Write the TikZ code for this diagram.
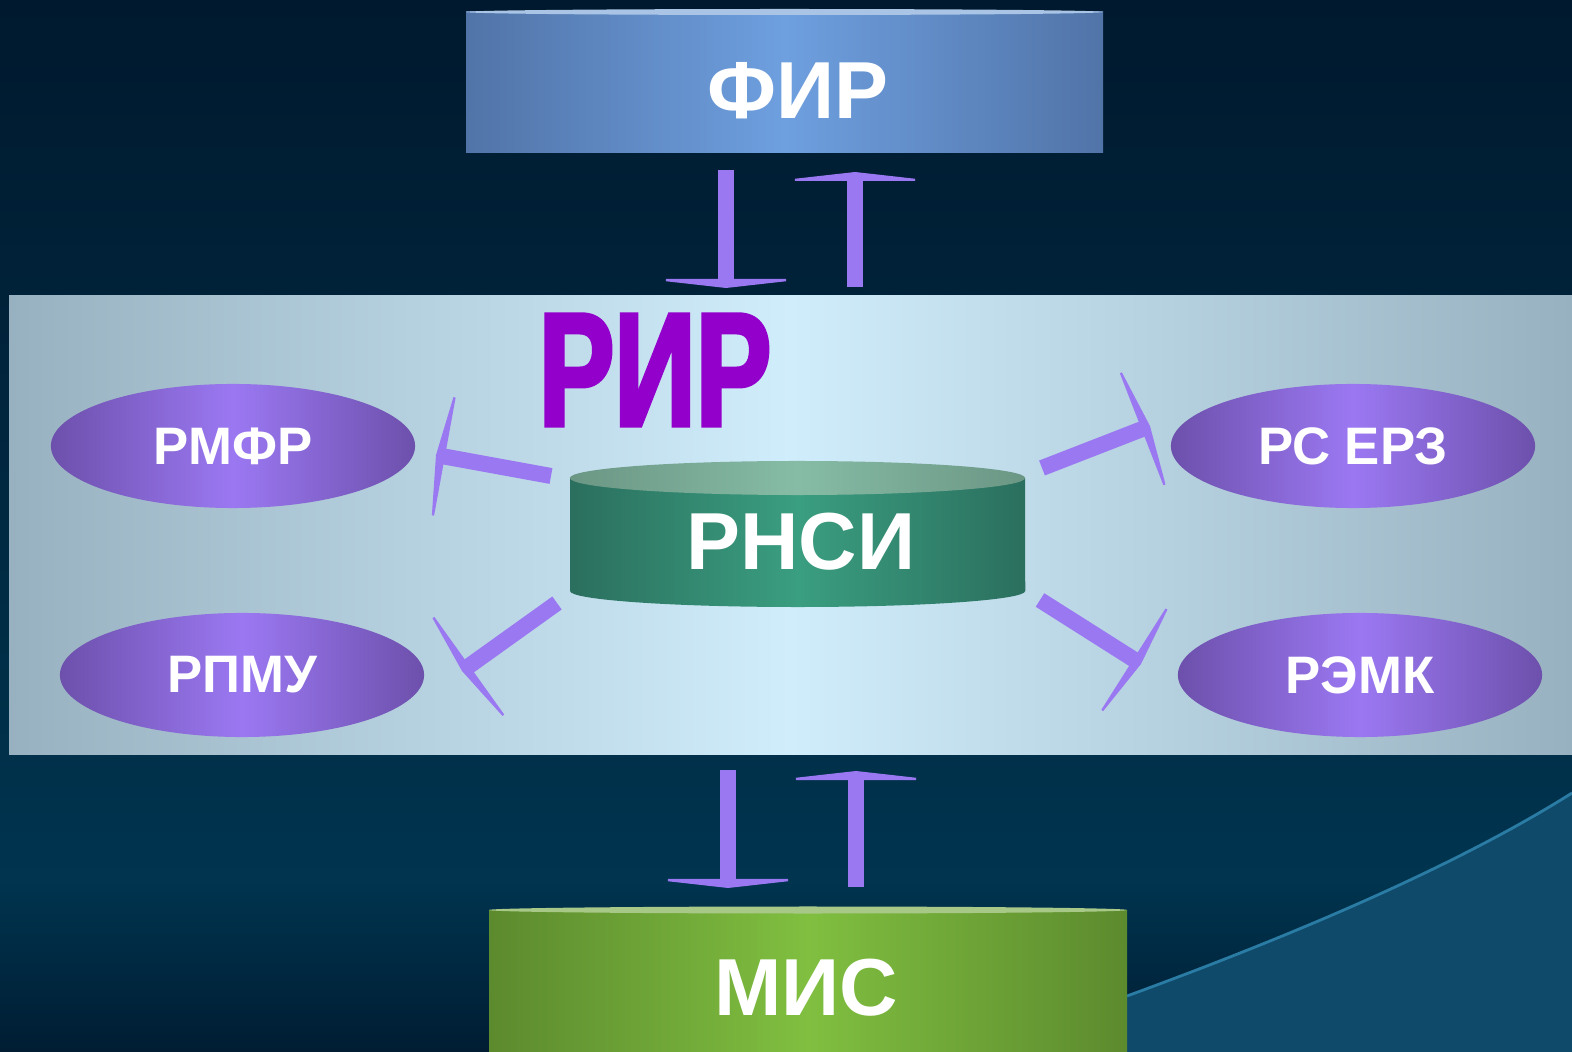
\documentclass[tikz,border=0pt]{standalone}
\usepackage{fontspec}
\setmainfont{Liberation Sans}
\newfontfamily\rirfont{Liberation Sans}[FakeStretch=0.7,FakeBold=2.5]
\usetikzlibrary{arrows.meta,shapes.geometric,positioning}

\definecolor{bgtop}{HTML}{00192E}
\definecolor{bgmid}{HTML}{00344F}
\definecolor{bgbot}{HTML}{001D33}
\definecolor{wave}{HTML}{0F4A6B}
\definecolor{waveline}{HTML}{2A7CA4}
\definecolor{bandside}{HTML}{98B1C0}
\definecolor{bandmid}{HTML}{D0EDFB}
\definecolor{firside}{HTML}{5174A8}
\definecolor{firmid}{HTML}{6E9FDF}
\definecolor{firtop}{HTML}{A9C4E4}
\definecolor{misside}{HTML}{5C8A2E}
\definecolor{mismid}{HTML}{80BF40}
\definecolor{mistop}{HTML}{A8C888}
\definecolor{rnsiside}{HTML}{2B6F5E}
\definecolor{rnsimid}{HTML}{3A9E80}
\definecolor{rnsitop}{HTML}{86BCA6}
\definecolor{regside}{HTML}{6D50AC}
\definecolor{regmid}{HTML}{9B78F2}
\definecolor{flowcol}{HTML}{9A78F2}
\definecolor{rircol}{HTML}{9300CC}

\begin{document}
\begin{tikzpicture}[
    x=0.01cm, y=-0.01cm,
    flow/.style={line width=0.16cm, color=flowcol, -{Triangle[width=1.6cm,length=0.09cm]}},
    region/.style={ellipse, minimum width=3.64cm, minimum height=1.24cm, inner sep=0pt,
        left color=regside, right color=regside, middle color=regmid,
        text=white, font=\bfseries\fontsize{15}{17}\selectfont},
    bigname/.style={text=white, inner sep=0pt, font=\bfseries\fontsize{23}{26}\selectfont}
]
\useasboundingbox (0,0) rectangle (1572,1052);

% background
\shade[top color=bgtop, bottom color=bgmid] (0,0) rectangle (1572,880);
\shade[top color=bgmid, bottom color=bgbot] (0,880) rectangle (1572,1052);
\fill[wave] (1127,1052) -- (1127,996) .. controls (1280,940) and (1450,870) .. (1572,793) -- (1572,1052) -- cycle;
\draw[waveline, line width=0.8pt] (1127,996) .. controls (1280,940) and (1450,870) .. (1572,793);

% regional band
\shade[left color=bandside, right color=bandside, middle color=bandmid] (9,296) rectangle (1572,755);

% federal level
\shade[left color=firside, right color=firside, middle color=firmid] (466,12) rectangle (1103,153);
\fill[firtop] (784.5,12) ellipse [x radius=3.185cm, y radius=0.03cm];
\node[bigname] (fir) at (798,91) {ФИР};

% medical systems
\shade[left color=misside, right color=misside, middle color=mismid] (489,910) rectangle (1127,1060);
\fill[mistop] (808,910) ellipse [x radius=3.19cm, y radius=0.035cm];
\node[bigname] (mis) at (806,988) {МИС};

% regional core
\shade[left color=rnsiside, right color=rnsiside, middle color=rnsimid]
    (570,478) -- (570,591) arc[start angle=180, end angle=360, x radius=2.275cm, y radius=0.16cm] -- (1025,478) -- cycle;
\shade[left color=rnsitop!80!black, right color=rnsitop!80!black, middle color=rnsitop] (797.5,478) ellipse [x radius=2.275cm, y radius=0.17cm];
\node[bigname] (rnsi) at (801,542) {РНСИ};

\node[text=rircol, inner sep=0pt, font=\rirfont\bfseries\fontsize{46}{50}\selectfont] (rir) at (655,370) {РИР};

% registers
\node[region] (rmfr) at (233,446) {РМФР};
\node[region] (rpmu) at (242,675) {РПМУ};
\node[region] (rserz) at (1353,446) {РС ЕРЗ};
\node[region] (remk) at (1360,675) {РЭМК};

% exchange arrows
\coordinate (fd1) at (726,170);  \coordinate (fd2) at (726,288);
\coordinate (fu1) at (855,287);  \coordinate (fu2) at (855,172);
\coordinate (md1) at (728,770);  \coordinate (md2) at (728,888);
\coordinate (mu1) at (856,887);  \coordinate (mu2) at (856,771);
\draw[flow] (fd1) -- (fd2);
\draw[flow] (fu1) -- (fu2);
\draw[flow] (md1) -- (md2);
\draw[flow] (mu1) -- (mu2);

\coordinate (a1) at (551,476);   \coordinate (t1) at (436,455);
\coordinate (a2) at (557,603);   \coordinate (t2) at (462,671);
\coordinate (a3) at (1042,468);  \coordinate (t3) at (1150,426);
\coordinate (a4) at (1040,600);  \coordinate (t4) at (1141,664);
\draw[flow] (a1) -- (t1);
\draw[flow] (a2) -- (t2);
\draw[flow] (a3) -- (t3);
\draw[flow] (a4) -- (t4);

\end{tikzpicture}
\end{document}
